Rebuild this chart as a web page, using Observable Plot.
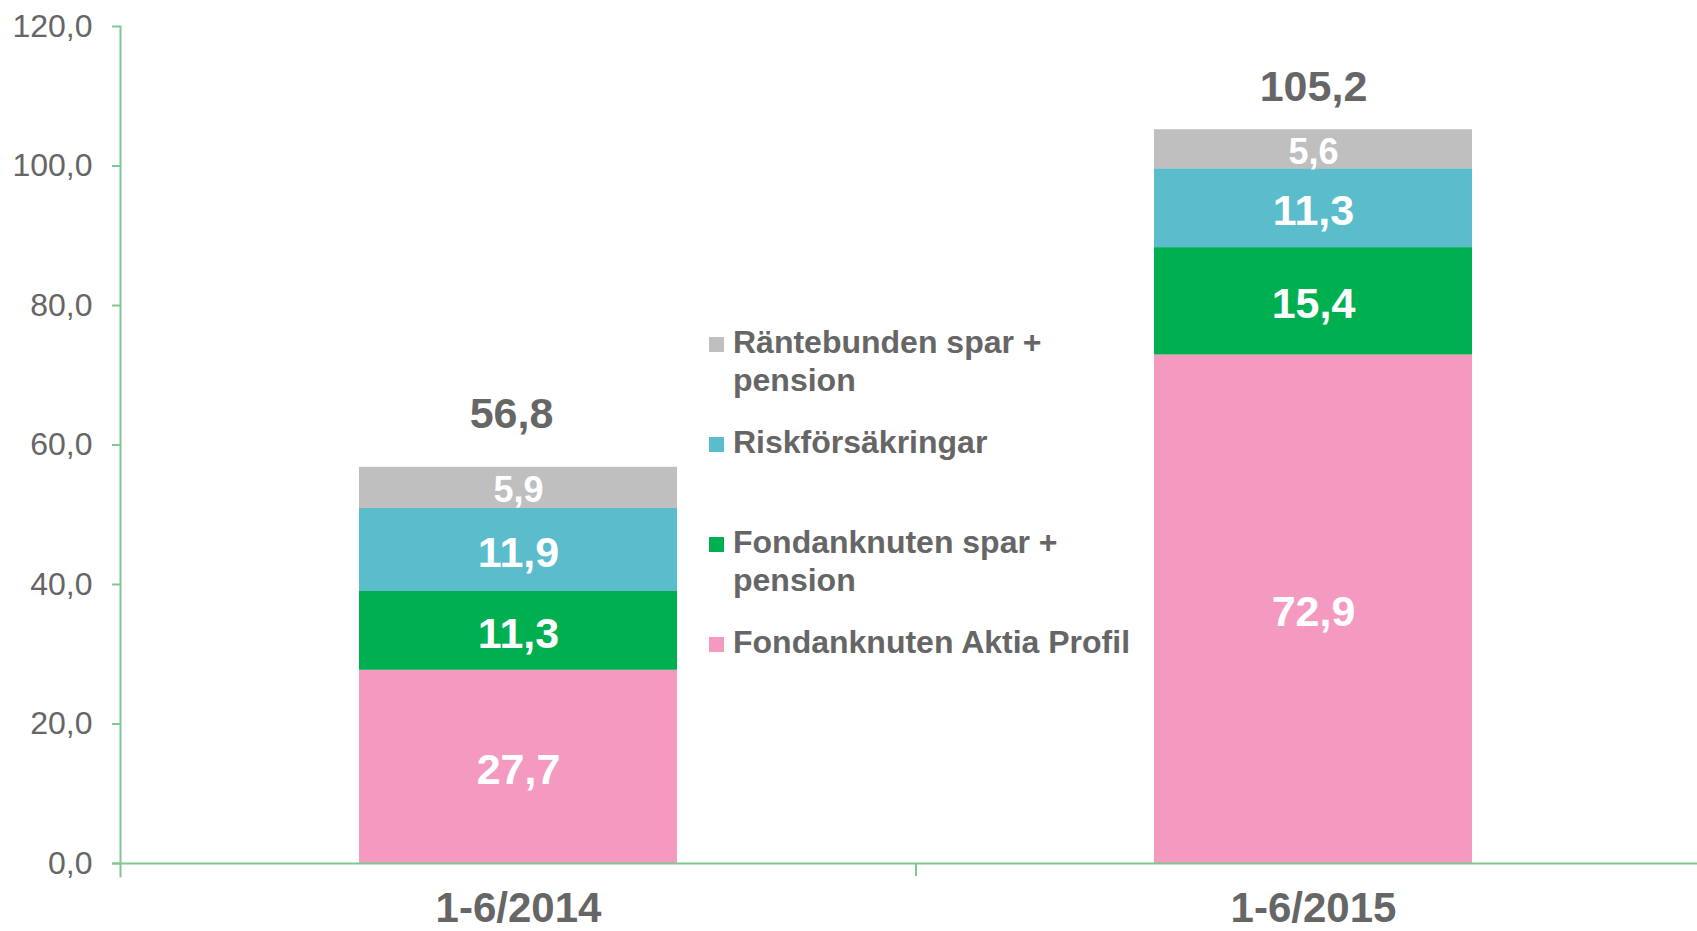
<!DOCTYPE html>
<html>
<head>
<meta charset="utf-8">
<script src="https://cdn.jsdelivr.net/npm/d3@7"></script>
<script src="https://cdn.jsdelivr.net/npm/@observablehq/plot@0.6"></script>
<style>
  html, body { margin: 0; padding: 0; background: #fff; }
  #wrap { position: relative; width: 1697px; height: 931px; overflow: hidden; font-family: "Liberation Sans", Arial, sans-serif; }
  #legend { position: absolute; left: 709px; top: 323px; }
  .item { position: relative; height: 100px; padding-left: 24px; font-size: 32px; line-height: 38px; font-weight: bold; color: #666; width: 440px; }
  .sw { position: absolute; left: 0; top: 14px; width: 15px; height: 15px; }
</style>
</head>
<body>
<div id="wrap"></div>
<script>
const categories = ["1-6/2014", "1-6/2015"];
const series = ["Fondanknuten Aktia Profil", "Fondanknuten spar + pension", "Riskförsäkringar", "Räntebunden spar + pension"];
const legendLines = [["Fondanknuten Aktia Profil"], ["Fondanknuten spar +", "pension"], ["Riskförsäkringar"], ["Räntebunden spar +", "pension"]];
const values2014 = [27.7, 11.3, 11.9, 5.9];
const values2015 = [72.9, 15.4, 11.3, 5.6];
const totals = [56.8, 105.2];
const colors = ["#F49AC1", "#00B050", "#5BBCCB", "#BFBFBF"];
const yTicks = [0, 20, 40, 60, 80, 100, 120];

const fmt = v => v.toFixed(1).replace(".", ",");
const rows = [];
[values2014, values2015].forEach((vals, ci) => {
  vals.forEach((v, si) => rows.push({cat: categories[ci], series: series[si], value: v}));
});
const totalRows = categories.map((c, i) => ({cat: c, total: totals[i]}));

const green = "#80C891";
const gray = "#666666";
const xRange = [120, 1710];
const pInner = 0.6, pOuter = 0.3;
const step = (xRange[1] - xRange[0]) / (categories.length - pInner + 2 * pOuter);

const chart = Plot.plot({
  width: 1697,
  height: 931,
  marginLeft: 120,
  marginRight: 0,
  marginTop: 26,
  marginBottom: 68,
  style: {fontFamily: '"Liberation Sans", Arial, sans-serif', background: "transparent"},
  x: {domain: categories, range: xRange, paddingInner: pInner, paddingOuter: pOuter, label: null},
  y: {domain: [0, 120], label: null},
  color: {domain: series, range: colors},
  marks: [
    Plot.barY(rows, Plot.stackY({x: "cat", y: "value", fill: "series", order: series})),
    Plot.text(rows, Plot.stackY({
      x: "cat", y: "value", z: "series", order: series,
      text: d => fmt(d.value),
      fontSize: d => d.series === series[3] ? 36 : 43,
      fontWeight: "bold", fill: "white", dy: 3
    })),
    Plot.text(totalRows.slice(0, 1), {x: "cat", y: "total", text: d => fmt(d.total), fontSize: 43, fontWeight: "bold", fill: gray, dx: -7, dy: -53}),
    Plot.text(totalRows.slice(1), {x: "cat", y: "total", text: d => fmt(d.total), fontSize: 43, fontWeight: "bold", fill: gray, dy: -42}),
    Plot.ruleY([0], {stroke: green, strokeWidth: 2, insetLeft: -8}),
    Plot.frame({anchor: "left", stroke: green, strokeWidth: 2, insetBottom: -13}),
    Plot.axisY({ticks: yTicks, tickSize: 8, tickPadding: 20, tickFormat: fmt, fontSize: 32, fill: gray, stroke: green, strokeWidth: 2, label: null}),
    Plot.axisX([categories[1]], {tickSize: 13, tickFormat: () => "", dx: -step / 2, stroke: green, strokeWidth: 2, label: null}),
    Plot.axisX({tickSize: 0, tickPadding: 29, fontSize: 42, fontWeight: "bold", fill: gray, label: null})
  ]
});

const wrap = document.getElementById("wrap");
wrap.appendChild(chart);

const legend = document.createElement("div");
legend.id = "legend";
for (let i = series.length - 1; i >= 0; i--) {
  const item = document.createElement("div");
  item.className = "item";
  const sw = document.createElement("span");
  sw.className = "sw";
  sw.style.background = colors[i];
  item.appendChild(sw);
  legendLines[i].forEach((t, k) => {
    if (k > 0) item.appendChild(document.createElement("br"));
    item.appendChild(document.createTextNode(t));
  });
  legend.appendChild(item);
}
wrap.appendChild(legend);
</script>
</body>
</html>
